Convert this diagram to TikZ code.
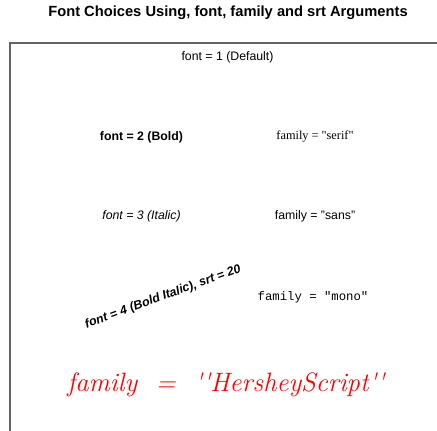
\documentclass[tikz,border=0pt]{standalone}
\usepackage{fontspec}
\setmainfont{Liberation Sans}
\newfontfamily\seriffam{Liberation Serif}
\newfontfamily\monofam{Liberation Mono}
\newfontfamily\scriptfam{Latin Modern Roman}
\definecolor{framegray}{RGB}{100,100,100}
\tikzset{
  txt/.style={inner sep=0pt, font=\fontsize{12.3}{14}\selectfont},
  frame/.style={draw=framegray, line width=1.2pt}
}
\begin{document}
\begin{tikzpicture}[x=1pt,y=1pt]
      \useasboundingbox (0,0) rectangle (437,431);
      \draw[frame] (10,-10) -- (10,388) -- (445,388);
      \draw
        (228,418) node[inner sep=0pt, font=\fontsize{14.7}{16}\selectfont\bfseries] (title){Font Choices Using, font, family and srt Arguments}
        (227.5,374) node[txt] (plain){font = 1 (Default)}
        (141.5,294) node[txt, font=\fontsize{12.3}{14}\selectfont\bfseries] (bold){font = 2 (Bold)}
        (315,294) node[txt, font=\fontsize{12.3}{14}\selectfont\seriffam] (serif){family = "serif"}
        (141.5,215) node[txt, font=\fontsize{12.3}{14}\selectfont\itshape] (italic){font = 3 (Italic)}
        (315,215) node[txt] (sans){family = "sans"}
        (163,134) node[txt, rotate=20, font=\fontsize{12.3}{14}\selectfont\bfseries\itshape] (bolditalic){font = 4 (Bold Italic), srt = 20}
        (313,134) node[txt, font=\fontsize{12.3}{14}\selectfont\monofam] (mono){family = "mono"}
        (226,39) node[inner sep=0pt, anchor=base, text=red, font=\fontsize{26.6}{30}\selectfont\scriptfam\itshape] (script){family \ = \ '{}'HersheyScript'{}'};
    \end{tikzpicture}
\end{document}
